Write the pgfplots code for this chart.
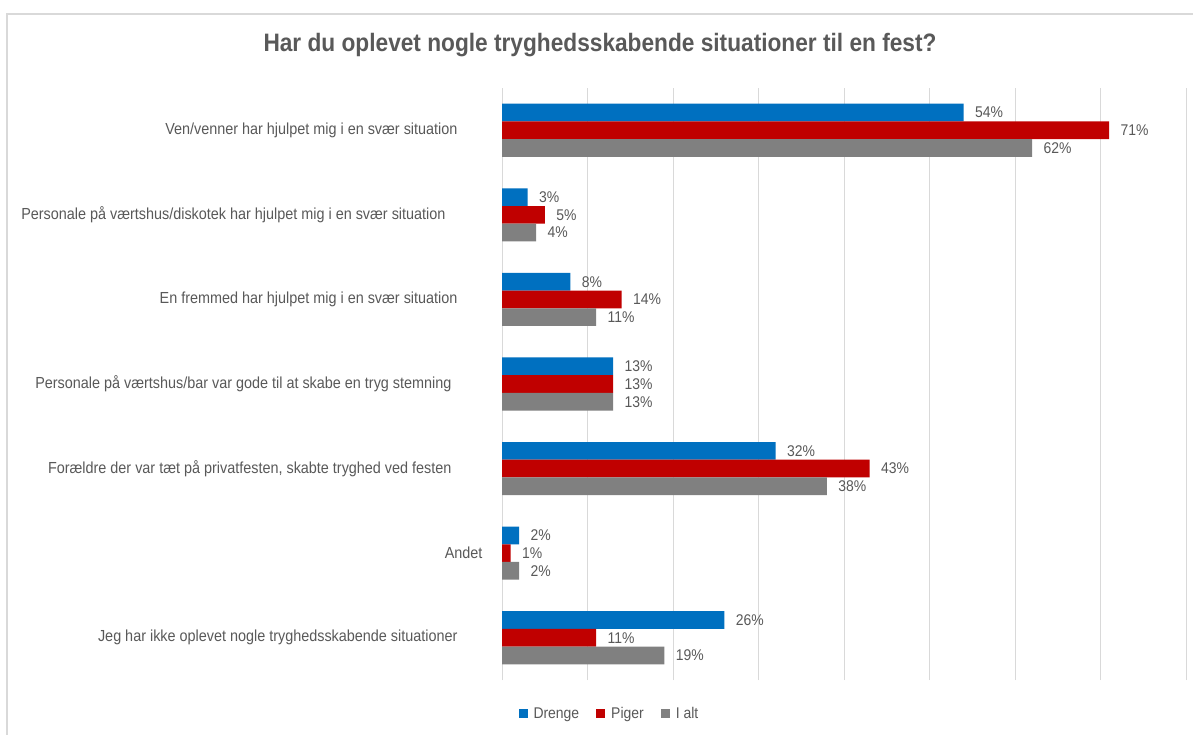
\documentclass[border=0pt]{standalone}
\usepackage{fontspec}
\setmainfont{Liberation Sans}[FakeStretch=0.9]
\usepackage{pgfplots}
\pgfplotsset{compat=1.18}
\definecolor{cBlue}{HTML}{0070C0}
\definecolor{cRed}{HTML}{C00000}
\definecolor{cGray}{HTML}{808080}
\definecolor{cText}{HTML}{595959}
\definecolor{cGrid}{HTML}{D9D9D9}
\begin{document}
\begin{tikzpicture}[x=1bp,y=1bp]
\path[use as bounding box,fill=white] (0,0) rectangle (1193,-735);
\draw[cGrid,line width=1.2bp] (7,-735) -- (7,-14) -- (1193,-14);
\node[text=cText,font=\fontsize{25.2bp}{29bp}\selectfont\bfseries] at (600,-45) {Har du oplevet nogle tryghedsskabende situationer til en fest?};
\begin{axis}[
  at={(502bp,-88bp)}, anchor=north west,
  scale only axis, width=684bp, height=592bp,
  xbar, bar width=17.7bp,
  xmin=0, xmax=80, ymin=0.5, ymax=7.5,
  xtick={0,10,...,80}, xticklabels={},
  xmajorgrids, major grid style={cGrid,line width=1bp},
  axis line style={draw=none}, major tick length=0pt,
  ytick={1,2,3,4,5,6,7},
  yticklabels={
    {Jeg har ikke oplevet nogle tryghedsskabende situationer},
    {Andet\hspace*{-25bp}},
    {Forældre der var tæt på privatfesten, skabte tryghed ved festen\hspace*{6bp}},
    {Personale på værtshus/bar var gode til at skabe en tryg stemning\hspace*{6bp}},
    {En fremmed har hjulpet mig i en svær situation},
    {Personale på værtshus/diskotek har hjulpet mig i en svær situation\hspace*{12bp}},
    {Ven/venner har hjulpet mig i en svær situation}},
  yticklabel style={font=\fontsize{16bp}{18bp}\selectfont, text=cText, anchor=east, xshift=-41bp},
  /pgf/number format/assume math mode=true,
  nodes near coords={\pgfmathprintnumber{\pgfplotspointmeta}\%},
  nodes near coords style={font=\fontsize{15.5bp}{17bp}\selectfont, text=cText, anchor=west, xshift=8bp},
  point meta=x,
  legend style={at={(0.157,-0.057)}, anchor=center, draw=none, fill=none, legend columns=3, font=\fontsize{15.5bp}{17bp}\selectfont, text=cText, /tikz/every even column/.append style={column sep=15bp}},
  legend image code/.code={\fill[#1] (0bp,-4.5bp) rectangle (9bp,4.5bp); \path (13bp,0bp);},
]
\addplot[fill=cBlue, draw=none, bar shift=17.7bp] coordinates {(54,7) (3,6) (8,5) (13,4) (32,3) (2,2) (26,1)};
\addplot[fill=cRed, draw=none, bar shift=0bp] coordinates {(71,7) (5,6) (14,5) (13,4) (43,3) (1,2) (11,1)};
\addplot[fill=cGray, draw=none, bar shift=-17.7bp] coordinates {(62,7) (4,6) (11,5) (13,4) (38,3) (2,2) (19,1)};
\legend{Drenge,Piger,I alt}
\end{axis}
\end{tikzpicture}
\end{document}
